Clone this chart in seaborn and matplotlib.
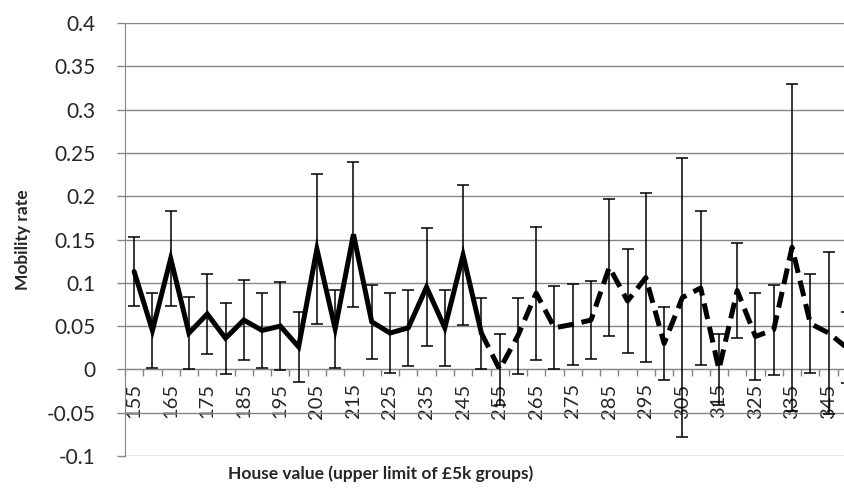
import numpy as np
import pandas as pd
import seaborn as sns
import matplotlib.pyplot as plt
from matplotlib.ticker import FixedLocator, FuncFormatter

# Mobility rate by house value band, with error bars
house_value = [155, 160, 165, 170, 175, 180, 185, 190, 195, 200,
               205, 210, 215, 220, 225, 230, 235, 240, 245, 250,
               255, 260, 265, 270, 275, 280, 285, 290, 295, 300,
               305, 310, 315, 320, 325, 330, 335, 340, 345, 350]
rate = [0.113, 0.045, 0.128, 0.042, 0.064, 0.036, 0.057, 0.045, 0.050, 0.026,
        0.139, 0.047, 0.156, 0.055, 0.042, 0.048, 0.095, 0.048, 0.132, 0.042,
        0.000, 0.039, 0.088, 0.048, 0.052, 0.057, 0.118, 0.079, 0.106, 0.030,
        0.083, 0.094, 0.000, 0.091, 0.038, 0.046, 0.141, 0.053, 0.042, 0.025]
err = [0.040, 0.043, 0.055, 0.042, 0.046, 0.041, 0.046, 0.043, 0.051, 0.040,
       0.087, 0.045, 0.084, 0.043, 0.046, 0.044, 0.068, 0.044, 0.081, 0.041,
       0.041, 0.044, 0.077, 0.048, 0.047, 0.045, 0.079, 0.060, 0.098, 0.042,
       0.161, 0.089, 0.041, 0.055, 0.050, 0.052, 0.189, 0.057, 0.094, 0.041]
split_value = 250  # solid line up to here, dashed after

df = pd.DataFrame({'house_value': house_value, 'rate': rate, 'err': err})
df['pos'] = np.arange(len(df))

sns.set_style("white")
plt.rcParams['font.family'] = ['Lato', 'DejaVu Sans']
grey = '#868686'

fig = plt.figure(figsize=(8.44, 4.88), dpi=100)
# plot area runs past the right edge of the picture, as in the original
ax = fig.add_axes([125 / 844, 32 / 488, 731 / 844, 433 / 488])

solid = df[df.house_value <= split_value]
dashed = df[df.house_value >= split_value]
sns.lineplot(data=solid, x='pos', y='rate', ax=ax, color='black', lw=3.6,
             solid_capstyle='round', solid_joinstyle='miter')
sns.lineplot(data=dashed, x='pos', y='rate', ax=ax, color='black', lw=3.6,
             linestyle=(0, (3.2, 1.6)), dash_capstyle='butt')
ax.errorbar(df.pos, df.rate, yerr=df.err, fmt='none', ecolor='black',
            elinewidth=1.1, capsize=4, capthick=1.1, zorder=3)

ax.set_xlim(-0.5, len(df) - 0.5)
ax.set_ylim(-0.1, 0.4)

# y axis
ax.yaxis.set_major_locator(FixedLocator(np.arange(-0.1, 0.4001, 0.05)))
ax.yaxis.set_major_formatter(FuncFormatter(lambda v, p: f'{round(v, 2):g}'))
ax.tick_params(axis='y', direction='out', length=6, width=1, color=grey,
               labelsize=15, pad=15, left=True)
ax.grid(axis='y', color=grey, lw=1)
ax.grid(axis='x', visible=False)

# category axis crosses at zero
ax.spines['bottom'].set_position(('data', 0))
ax.spines['bottom'].set_color(grey)
ax.spines['left'].set_color(grey)
for s in ['top', 'right']:
    ax.spines[s].set_visible(False)
ax.xaxis.set_major_locator(FixedLocator(np.arange(-0.5, len(df), 1)))
ax.xaxis.set_major_formatter(FuncFormatter(lambda v, p: ''))
ax.xaxis.set_minor_locator(FixedLocator(df.pos))
ax.set_xticklabels([str(v) if k % 2 == 0 else '' for k, v in enumerate(house_value)],
                   minor=True, rotation=90)
ax.tick_params(axis='x', which='major', direction='out', length=5, width=1,
               color=grey, bottom=True)
ax.tick_params(axis='x', which='minor', length=0, labelsize=14.5, pad=10)

ax.set_xlabel('House value (upper limit of £5k groups)', fontsize=12.5,
              fontweight='bold')
ax.xaxis.set_label_coords(0.35, -0.022)
ax.set_ylabel('Mobility rate', fontsize=12.5, fontweight='bold')
ax.yaxis.set_label_coords(-0.128, 0.5)

fig.savefig('out.png', dpi=100)
